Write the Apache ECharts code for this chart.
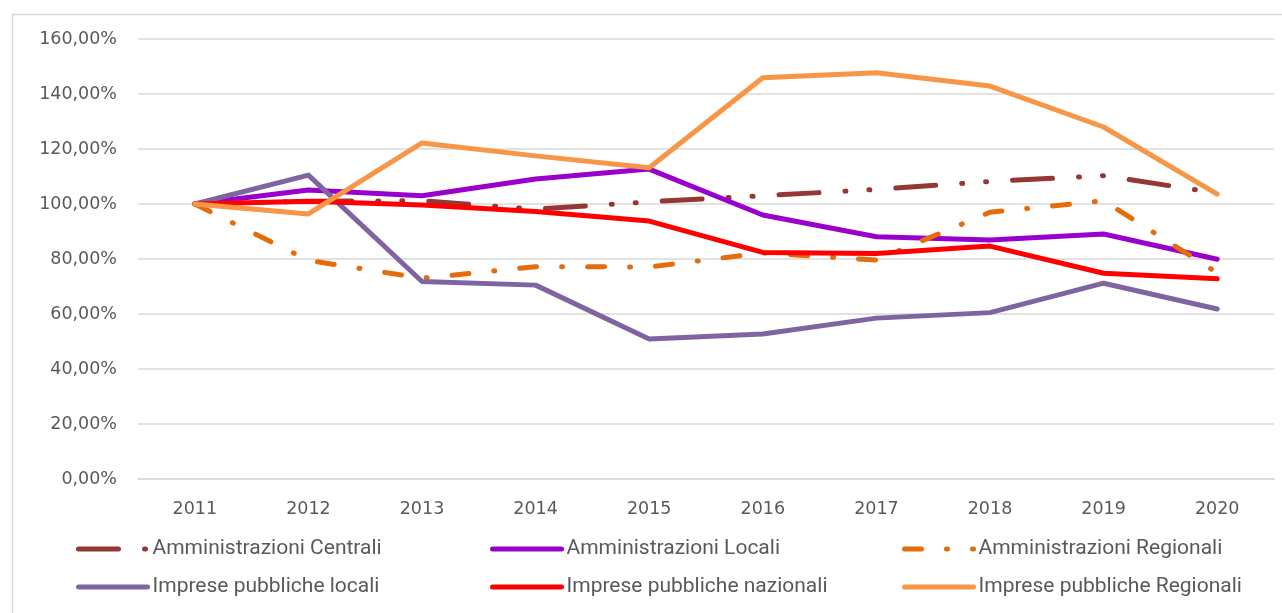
<!DOCTYPE html>
<html>
<head>
<meta charset="utf-8">
<script src="https://cdn.jsdelivr.net/npm/echarts@6/dist/echarts.min.js"></script>
<style>
html,body{margin:0;padding:0;background:#fff;}
#c{width:1282px;height:613px;}
</style>
</head>
<body>
<div id="c"></div>
<script>
const years = ['2011','2012','2013','2014','2015','2016','2017','2018','2019','2020'];
const yTicks = [0, 20, 40, 60, 80, 100, 120, 140, 160];
const ammCentrali = [100, 101, 101.2, 98.1, 100.8, 103, 105.3, 108.2, 110.3, 104];
const ammLocali = [100, 105.1, 103, 109.1, 112.7, 96, 88.1, 86.9, 89.1, 79.9];
const ammRegionali = [100, 79.5, 73, 77.2, 77.1, 82.2, 79.6, 97, 101.2, 75];
const impLocali = [100, 110.5, 71.8, 70.5, 50.9, 52.7, 58.5, 60.5, 71.2, 61.8];
const impNazionali = [100, 101, 99.6, 97.3, 93.8, 82.4, 82, 84.7, 74.8, 72.8];
const impRegionali = [100, 96.4, 122.2, 117.5, 113.2, 145.9, 147.7, 142.9, 128, 103.6];
const seriesNames = ['Amministrazioni Centrali','Amministrazioni Locali','Amministrazioni Regionali','Imprese pubbliche locali','Imprese pubbliche nazionali','Imprese pubbliche Regionali'];

const seriesData = [ammCentrali, ammLocali, ammRegionali, impLocali, impNazionali, impRegionali];
const colors = ['#953735','#9900CC','#E46C0A','#8064A2','#FF0000','#F79646'];
const dashes = [[40,26,1,23,1,26], 'solid', [17,25,1,25], 'solid', 'solid', 'solid'];

const axisFont = 'DejaVu Sans';
const legendFont = "Roboto, sans-serif";
const textColor = '#595959';

const legendPos = [
  {left: 76, top: 536}, {left: 490, top: 536}, {left: 902, top: 536},
  {left: 76, top: 574}, {left: 490, top: 574}, {left: 902, top: 574}
];

const chart = echarts.init(document.getElementById('c'), null, {renderer: 'canvas'});
chart.setOption({
  animation: false,
  backgroundColor: '#fff',
  graphic: [{
    type: 'rect', left: 10, top: 12, silent: true, z: -10,
    shape: {width: 1300, height: 700},
    style: {fill: 'none', stroke: '#d9d9d9', lineWidth: 1.5}
  }],
  grid: {left: 138, right: 8, top: 39, bottom: 134, containLabel: false},
  xAxis: {
    type: 'category', data: years, boundaryGap: true,
    axisLine: {show: true, lineStyle: {color: '#d9d9d9', width: 1.5}},
    axisTick: {show: false},
    axisLabel: {color: textColor, fontFamily: axisFont, fontSize: 17.5, margin: 21}
  },
  yAxis: {
    type: 'value', min: 0, max: 160, interval: 20,
    axisLine: {show: false}, axisTick: {show: false},
    splitLine: {lineStyle: {color: '#d9d9d9', width: 1.5}},
    axisLabel: {color: textColor, fontFamily: axisFont, fontSize: 17.5, margin: 21,
      formatter: v => yTicks.indexOf(v) >= 0 ? v + ',00%' : ''}
  },
  legend: seriesNames.map((n, i) => ({
    data: [n], left: legendPos[i].left, top: legendPos[i].top, padding: 0,
    itemWidth: 69, itemHeight: 14, itemGap: 5,
    itemStyle: {opacity: 0, borderWidth: 0},
    lineStyle: {width: 5, cap: 'round', type: dashes[i], color: colors[i]},
    textStyle: {color: textColor, fontFamily: legendFont, fontSize: 21, lineHeight: 26}
  })),
  series: seriesNames.map((n, i) => ({
    name: n, type: 'line', data: seriesData[i], symbol: 'none', smooth: false,
    color: colors[i],
    lineStyle: {color: colors[i], width: 5, type: dashes[i], cap: 'round', join: 'round'},
    emphasis: {disabled: true}
  }))
});
</script>
</body>
</html>
